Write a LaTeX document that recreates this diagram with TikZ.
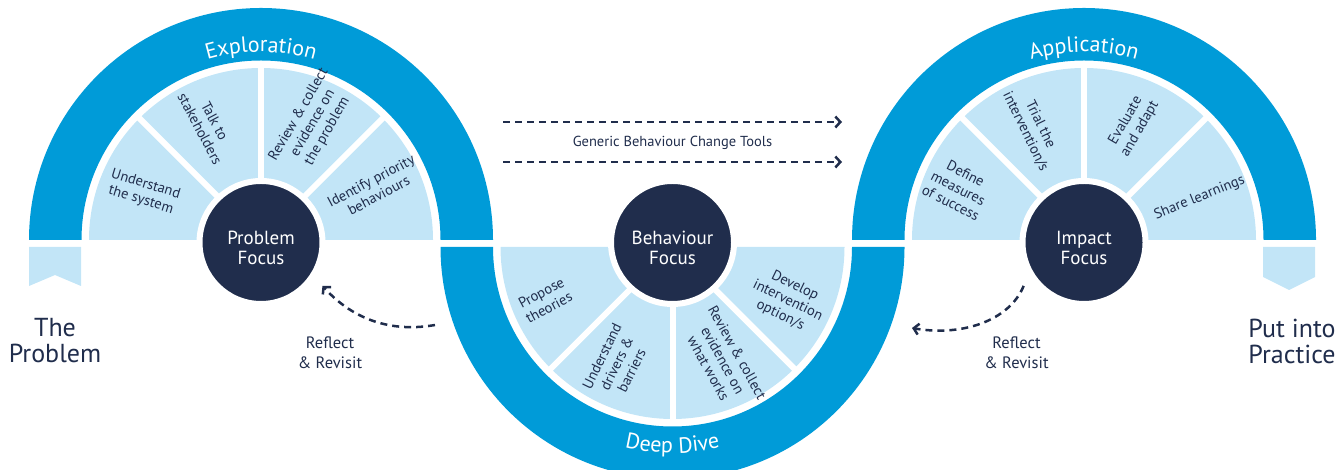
\documentclass[tikz,border=0pt]{standalone}
\usepackage{fontspec}
\setmainfont{PT Sans}
\usetikzlibrary{arrows.meta,decorations.text}

\definecolor{bandBlue}{RGB}{0,155,216}
\definecolor{sectorBlue}{RGB}{194,229,247}
\definecolor{focusNavy}{RGB}{32,45,76}

\tikzset{
  bandFill/.style={fill=bandBlue},
  sectorFill/.style={fill=sectorBlue},
  sectorGap/.style={draw=white, line width=6pt},
  focusCircle/.style={
    circle, fill=focusNavy, draw=white, line width=6pt,
    minimum size=123pt, inner sep=0pt
  },
  focusText/.style={text=white, align=center, inner sep=0pt,
    font=\fontsize{19}{20}\selectfont},
  stepText/.style={text=focusNavy, align=center, inner sep=0pt,
    font=\fontsize{14.5}{16.5}\selectfont},
  reflectText/.style={text=focusNavy, align=center,
    font=\fontsize{16.5}{20}\selectfont},
  endLabel/.style={text=focusNavy, align=center,
    font=\fontsize{26}{26}\selectfont},
  dashedArrow/.style={
    draw=focusNavy, line width=2.5pt, dash pattern=on 7pt off 5pt,
    -{Straight Barb[length=5pt,width=11pt]}
  },
  bandLabel/.style={
    decorate,
    decoration={text along path, text align=center, text color=white,
      text={|\fontsize{22}{24}\selectfont|#1}}
  }
}
\newlength\bandOuter
\newlength\bandInner
\newlength\sectorRadius
\setlength\bandOuter{232pt}
\setlength\bandInner{179.5pt}
\setlength\sectorRadius{172pt}

\begin{document}
\begin{tikzpicture}[x=1pt, y=1pt]
    \useasboundingbox (0,0) rectangle (1335,470);
    \coordinate (probC) at (261,230);
    \coordinate (behC) at (672.5,223);
    \coordinate (impC) at (1084,230);

    % upper bands and their steps
    \foreach \c in {probC,impC} {
      \fill[bandFill] ([shift={(180:\bandOuter)}]\c)
        arc[start angle=180, end angle=0, radius=\bandOuter]
        -- ([shift={(0:\bandInner)}]\c)
        arc[start angle=0, end angle=180, radius=\bandInner] -- cycle;
      \fill[sectorFill] ([shift={(0:\sectorRadius)}]\c)
        arc[start angle=0, end angle=180, radius=\sectorRadius] -- cycle;
      \foreach \a in {45,90,135}
        \draw[sectorGap] (\c) -- ++(\a:176);
    }

    % lower band
    \fill[bandFill] ([shift={(180:\bandOuter)}]behC)
      arc[start angle=180, end angle=360, radius=\bandOuter]
      -- ([shift={(0:\bandInner)}]behC)
      arc[start angle=360, end angle=180, radius=\bandInner] -- cycle;
    \fill[sectorFill] ([shift={(180:\sectorRadius)}]behC)
      arc[start angle=180, end angle=360, radius=\sectorRadius] -- cycle;
    \foreach \a in {225,270,315}
      \draw[sectorGap] (behC) -- ++(\a:176);

    % bookmarks at both ends
    \fill[sectorFill] (29,223) -- (81,223) -- (81,184) -- (55,195) -- (29,184) -- cycle;
    \fill[sectorFill] (1263,223) -- (1315,223) -- (1315,193) -- (1289,180) -- (1263,193) -- cycle;

    % band titles
    \path[bandLabel=Exploration] ([shift={(120:188)}]probC)
      arc[start angle=120, end angle=60, radius=188];
    \path[bandLabel=Application] ([shift={(120:188)}]impC)
      arc[start angle=120, end angle=60, radius=188];
    \path[bandLabel=Deep Dive] ([shift={(240:206)}]behC)
      arc[start angle=240, end angle=300, radius=206];

    % step texts
    \foreach \ang/\rad/\rot/\txt [count=\i] in {
        158/127/-17/{Understand\\the system},
        115/127/-62/{Talk to\\stakeholders},
        66/128/60/{Review \& collect\\evidence on\\the problem},
        24.5/125/28/{Identify priority\\behaviours}}
      \node[stepText, rotate=\rot] (exploreStep\i) at ([shift={(\ang:\rad)}]probC) {\txt};
    \foreach \ang/\rad/\rot/\txt [count=\i] in {
        202.6/138/28/{Propose\\theories},
        244.4/129/64/{Understand\\drivers \&\\barriers},
        294/124/-61/{Review \& collect\\evidence on\\what works},
        335/127/-26/{Develop\\intervention\\option/s}}
      \node[stepText, rotate=\rot] (diveStep\i) at ([shift={(\ang:\rad)}]behC) {\txt};
    \foreach \ang/\rad/\rot/\txt [count=\i] in {
        157.6/136/-27/{Define\\measures\\of success},
        114.5/123/-64/{Trial the\\intervention/s},
        67/125/60/{Evaluate\\and adapt},
        20/123/22/{Share learnings}}
      \node[stepText, rotate=\rot] (applyStep\i) at ([shift={(\ang:\rad)}]impC) {\txt};

    % focus circles
    \node[focusCircle] (probFocus) at (261,227.5) {};
    \node[focusCircle] (behFocus) at (672.5,227.5) {};
    \node[focusCircle] (impFocus) at (1084,227.5) {};
    \node[focusText, yshift=-5pt] (probText) at (probFocus) {Problem\\Focus};
    \node[focusText, yshift=-5pt] (behText) at (behFocus) {Behaviour\\Focus};
    \node[focusText, yshift=-5pt] (impText) at (impFocus) {Impact\\Focus};

    % end labels
    \node[endLabel] (problemLabel) at (55,129) {The\\Problem};
    \node[endLabel] (practiceLabel) at (1292,129) {Put into\\Practice};

    % generic tools
    \coordinate (toolsStartA) at (503,348);
    \coordinate (toolsEndA) at (842,348);
    \coordinate (toolsStartB) at (503,308);
    \coordinate (toolsEndB) at (842,308);
    \draw[dashedArrow] (toolsStartA) -- (toolsEndA);
    \draw[dashedArrow] (toolsStartB) -- (toolsEndB);
    \node[stepText] (toolsLabel) at (672.5,327) {Generic Behaviour Change Tools};

    % reflect and revisit
    \coordinate (revisitStartL) at (435,145);
    \coordinate (revisitEndR) at (912,142);
    \draw[dashedArrow, shorten >=11pt] (revisitStartL) to[out=190, in=-48] (probFocus.-33);
    \draw[dashedArrow, shorten <=12pt] (impFocus.210) to[out=-112, in=-10] (revisitEndR);
    \node[reflectText] (reflectL) at (330,117) {Reflect\\\& Revisit};
    \node[reflectText] (reflectR) at (1016.5,117) {Reflect\\\& Revisit};
\end{tikzpicture}
\end{document}
